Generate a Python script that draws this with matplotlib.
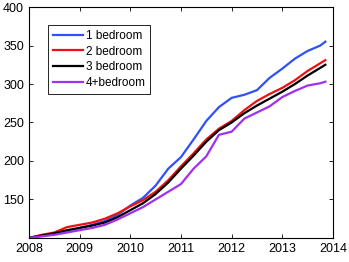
import numpy as np
import matplotlib
matplotlib.use("Agg")
from matplotlib import pyplot as plt

plt.rcParams['font.family'] = ['Liberation Sans', 'DejaVu Sans']

# quarterly price index by number of bedrooms
years = [2008.0, 2008.25, 2008.5, 2008.75, 2009.0, 2009.25, 2009.5, 2009.75,
         2010.0, 2010.25, 2010.5, 2010.75, 2011.0, 2011.25, 2011.5, 2011.75,
         2012.0, 2012.25, 2012.5, 2012.75, 2013.0, 2013.25, 2013.5, 2013.75, 2013.85]

bed1 = [100, 103, 105, 108, 113, 117, 122, 130, 142, 152, 168, 190, 205, 228, 252, 270,
        282, 286, 292, 308, 320, 333, 343, 350, 355]
bed2 = [100, 104, 107, 114, 117, 120, 125, 132, 141, 149, 160, 175, 193, 210, 228, 242,
        252, 266, 278, 287, 295, 305, 317, 327, 331]
bed3 = [100, 103, 106, 110, 113, 116, 120, 127, 136, 145, 157, 172, 190, 207, 225, 240,
        250, 262, 272, 281, 290, 300, 311, 321, 325]
bed4 = [100, 102, 104, 107, 110, 113, 117, 124, 132, 140, 150, 160, 170, 190, 206, 234,
        238, 255, 263, 271, 283, 291, 298, 301, 303]

labels = ['1 bedroom', '2 bedroom', '3 bedroom', '4+bedroom']
colors = ['#3050f8', '#f01010', '#000000', '#a030f0']

fig = plt.figure(figsize=(3.49, 2.62), dpi=100)
ax = fig.add_axes([0.083, 0.092, 0.871, 0.881])

for series, name, col in zip([bed1, bed2, bed3, bed4], labels, colors):
    ax.plot(years, series, color=col, lw=1.6, label=name)

ax.set_xlim(2008, 2014)
ax.set_ylim(100, 400)
ax.set_xticks([2008, 2009, 2010, 2011, 2012, 2013, 2014])
ax.set_yticks([150, 200, 250, 300, 350, 400])
ax.tick_params(direction='in', top=True, right=True, labelsize=9, length=3, width=0.6)
for sp in ax.spines.values():
    sp.set_linewidth(0.8)

leg = ax.legend(loc='upper left', bbox_to_anchor=(0.062, 0.922), fontsize=8.5,
                fancybox=False, edgecolor='black', framealpha=1,
                handlelength=2.6, handletextpad=0.2, labelspacing=0.32,
                borderpad=0.4, borderaxespad=0)
leg.get_frame().set_linewidth(0.6)

fig.savefig('out.png', dpi=100)
